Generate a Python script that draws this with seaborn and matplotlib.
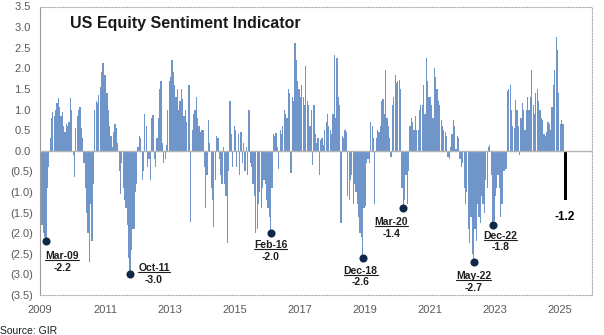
import numpy as np
import pandas as pd
import matplotlib
matplotlib.use("Agg")
import matplotlib.pyplot as plt
from matplotlib.lines import Line2D
from matplotlib.transforms import IdentityTransform
import seaborn as sns

# Semi-monthly readings of the sentiment indicator (1st and 15th of each month)
s2009 = [-1.3, -1.8, -2.0, -2.1, -2.2, -0.9, -0.4, 0.3, 0.8, 0.95, 0.85, 1.0,
         1.15, 1.28, 1.05, 0.85, 0.95, 0.6, 0.45, 0.65, 0.6, 0.7, 1.27, 1.0]
s2010 = [-0.1, -0.63, 0.55, 0.85, 1.0, 1.05, 0.55, 0.3, -0.3, -0.9, -1.5, -2.0,
         -2.7, -1.3, -2.2, -0.8, 1.0, 1.2, 1.15, 1.35, 1.55, 1.9, 2.13, 1.85]
s2011 = [1.85, 1.4, 1.0, 0.6, 0.35, 0.1, 0.45, 0.65, 0.55, 0.2, -0.5, -1.05,
         -0.3, -0.9, -1.2, -1.4, -1.8, -2.6, -3.0, -2.4, -1.9, -1.9, -1.0, -0.8]
s2012 = [0.1, 0.35, 0.3, -0.7, -0.5, 0.9, 0.6, -0.4, -0.2, -0.7, 0.8, 0.87,
         -0.2, -0.4, 0.3, 0.8, 1.5, 1.7, 0.2, -0.3, -0.2, 0.15, 1.0, 1.7]
s2013 = [1.8, 2.2, 1.9, 1.6, 1.3, 1.5, 1.0, 1.2, 1.5, 1.25, 0.85, 1.0,
         0.7, 1.6, 1.6, -1.72, 0.5, 0.9, 1.0, 1.3, 0.8, 0.6, 0.45, 0.5]
s2014 = [0.5, -0.4, -1.4, -0.6, 0.75, 0.2, -0.9, -1.2, -1.85, -0.7, 0.35, 0.3,
         -0.2, -0.6, -0.8, 0.1, -0.8, -1.1, -2.25, -0.5, 1.2, 0.4, -0.4, 0.6]
s2015 = [0.5, -0.4, 0.4, -0.6, 0.45, -0.3, 0.2, -0.5, 0.1, -0.6, 1.0, -0.3,
         -0.4, -0.8, -1.1, -2.0, -1.9, -1.3, -1.0, -1.4, -0.9, -0.7, -0.8, -1.2]
s2016 = [-1.4, -1.6, -2.0, -0.9, 0.4, 0.35, 0.42, 0.1, -0.45, 0.5, 0.4, 0.6,
         1.0, 0.9, 0.8, 1.5, 1.4, -0.55, 1.3, 1.2, 2.62, 2.2, 1.7, 1.5]
s2017 = [1.3, 1.6, 1.3, 1.1, 2.05, 1.2, 1.1, 0.6, 1.0, -0.35, 1.1, 0.4,
         0.2, 0.3, -0.6, 0.25, 0.3, 0.15, 0.5, 0.7, 0.9, 0.6, 0.5, 0.4]
s2018 = [0.9, 2.32, 0.8, 2.25, 1.3, 1.1, -1.75, 0.35, 0.3, 0.5, 0.45, -1.1,
         -1.2, -0.7, -0.6, -1.3, -0.8, -1.0, -1.3, -1.6, -2.0, -2.1, -2.6, -1.4]
s2019 = [-1.35, -0.3, -0.2, -0.3, 0.7, 0.6, 0.3, -1.3, 0.3, 0.5, 0.45, 0.6,
         1.2, 1.25, 0.9, 1.95, 0.8, 0.6, 0.3, -0.15, 1.1, 1.3, 1.85, 1.65]
s2020 = [1.7, 1.72, 1.5, -0.9, -1.4, -1.2, -0.6, -1.3, -0.5, 0.6, 0.8, 0.7,
         0.5, 0.85, 0.5, 0.5, 1.0, 1.1, 1.1, 1.6, 0.9, 2.24, 1.7, 1.3]
s2021 = [1.3, 1.1, 0.8, 2.0, 1.8, 1.5, 1.2, 1.1, 0.75, 0.6, 0.5, 0.45,
         0.35, -0.15, -0.2, 0.1, 0.4, 0.75, 0.6, 0.05, 0.35, 0.3, -0.2, -0.4]
s2022 = [-0.3, -0.9, -1.3, -1.0, -1.9, -2.25, -1.6, -2.5, -2.7, -1.9, -2.2, -1.3,
         -1.6, -1.75, -1.1, -1.3, -1.5, -0.7, -0.9, 0.1, 0.15, -0.6, -1.8, -1.7]
s2023 = [-1.1, -0.9, -0.6, -0.9, -1.6, -1.3, -0.5, -0.5, -0.45, 1.45, 1.5, 1.6,
         1.0, 0.6, 0.55, 1.23, 1.0, 0.6, -0.1, 0.8, 1.15, 1.0, 0.5, 1.0]
s2024 = [1.3, 1.0, 1.3, 1.96, 1.1, 0.9, 1.4, 1.5, 1.2, 1.0, 0.8, 0.75,
         0.4, 0.35, 0.45, 0.7, 0.66, 0.5, 1.07, 1.6, 1.96, 2.77, 2.45, 1.4]
s2025 = [0.66, 0.75, 0.66, -0.35, -1.2]

# Called-out troughs
ann_dates = ["2009-03-01", "2011-10-01", "2016-02-01", "2018-12-01",
             "2020-03-01", "2022-05-01", "2022-12-01"]
ann_labels = ["Mar-09", "Oct-11", "Feb-16", "Dec-18", "Mar-20", "May-22", "Dec-22"]

ytick_values = [3.5, 3.0, 2.5, 2.0, 1.5, 1.0, 0.5, 0.0,
                -0.5, -1.0, -1.5, -2.0, -2.5, -3.0, -3.5]
ytick_labels = ["3.5 ", "3.0 ", "2.5 ", "2.0 ", "1.5 ", "1.0 ", "0.5 ", "0.0 ",
                "(0.5)", "(1.0)", "(1.5)", "(2.0)", "(2.5)", "(3.0)", "(3.5)"]
xtick_years = [2009, 2011, 2013, 2015, 2017, 2019, 2021, 2023, 2025]

title = "US Equity Sentiment Indicator"
source_note = "Source: GIR"

# label placement (pixels from the dot: right, down)
label_offsets = [(16, 15), (24, -6), (0, 12), (-2, 13), (-12, 14), (0, 14), (8, 11)]

BAR = "#7096c9"
DOT = "#0e2848"
TXT = "#1e1e1e"
AXIS_TXT = "#595959"

values = np.array(s2009 + s2010 + s2011 + s2012 + s2013 + s2014 + s2015 + s2016 +
                  s2017 + s2018 + s2019 + s2020 + s2021 + s2022 + s2023 + s2024 +
                  s2025)
dates = pd.date_range("2009-01-01", periods=len(values), freq="SMS")
t = (dates.year + (dates.month - 1) / 12
     + np.where(dates.day == 1, 0.0, 1 / 24) + 1 / 48).to_numpy()

df = pd.DataFrame({"t": t, "value": values})
hist = df.iloc[:-1]
latest = df.iloc[-1:]

sns.set_style("white")
plt.rcParams["font.family"] = ["Liberation Sans", "DejaVu Sans"]

fig = plt.figure(figsize=(6.04, 3.35), dpi=100)
ax = fig.add_axes([40 / 604, 40 / 335, 552 / 604, 288.5 / 335])

sns.barplot(data=hist, x="t", y="value", native_scale=True, orient="x",
            width=0.9, color=BAR, saturation=1, errorbar=None, linewidth=0, ax=ax)
sns.barplot(data=latest, x="t", y="value", native_scale=True, orient="x",
            width=0.08, color="black", saturation=1, errorbar=None, linewidth=0,
            ax=ax)

ax.axhline(0, color="#b4b4b4", lw=1.0, zorder=3)

# trough markers
pos = dates.get_indexer(pd.to_datetime(ann_dates))
ann_t = t[pos]
ann_v = values[pos]
sns.scatterplot(x=ann_t, y=ann_v, color=DOT, s=34, linewidth=0, zorder=5, ax=ax)

date_texts = []
for lab, xt, yv, (dx, dy) in zip(ann_labels, ann_t, ann_v, label_offsets):
    d = ax.annotate(lab, xy=(xt, yv), xytext=(dx, -dy), textcoords="offset pixels",
                    ha="center", va="center", fontsize=7.5, fontweight="bold",
                    color=TXT, zorder=6)
    ax.annotate(f"{yv:.1f}", xy=(xt, yv), xytext=(dx, -dy - 11.5),
                textcoords="offset pixels", ha="center", va="center",
                fontsize=7.5, fontweight="bold", color=TXT, zorder=6)
    date_texts.append(d)

last_t = latest["t"].iloc[0]
last_v = latest["value"].iloc[0]
ax.annotate(f"{last_v:.1f}", xy=(last_t, last_v), xytext=(-1, -17),
            textcoords="offset pixels", ha="center", va="center",
            fontsize=8.5, fontweight="bold", color="black")

ax.set_xlim(2009, 2026)
ax.set_ylim(-3.5, 3.5)
ax.set_xticks(xtick_years, [str(y) for y in xtick_years])
ax.set_yticks(ytick_values, ytick_labels)
ax.set_xlabel("")
ax.set_ylabel("")
ax.tick_params(axis="x", length=0, pad=7.5, labelsize=8, labelcolor=AXIS_TXT)
ax.tick_params(axis="y", length=3, width=0.8, color="#9a9a9a", pad=2,
               labelsize=8, labelcolor=AXIS_TXT, direction="out")
for side in ["top", "right", "bottom"]:
    ax.spines[side].set_linestyle((0, (1, 1.5)))
    ax.spines[side].set_color("#b0b0b0")
    ax.spines[side].set_linewidth(0.8)
ax.spines["left"].set_color("#9a9a9a")
ax.spines["left"].set_linewidth(0.8)

fig.text(70 / 604, 1 - 28.3 / 335, title, fontsize=11.5, fontweight="bold",
         color="#1a1a1a", va="baseline", ha="left")
fig.text(0.5 / 604, 1.5 / 335, source_note, fontsize=7.5, color="#1a1a1a",
         va="baseline", ha="left")

# underline the date of each call-out
fig.canvas.draw()
renderer = fig.canvas.get_renderer()
for d in date_texts:
    bb = d.get_window_extent(renderer)
    yline = bb.y0 + 1.2
    fig.add_artist(Line2D([bb.x0, bb.x1], [yline, yline], transform=IdentityTransform(),
                          color=TXT, lw=0.8))

fig.savefig("out.png", dpi=100)
